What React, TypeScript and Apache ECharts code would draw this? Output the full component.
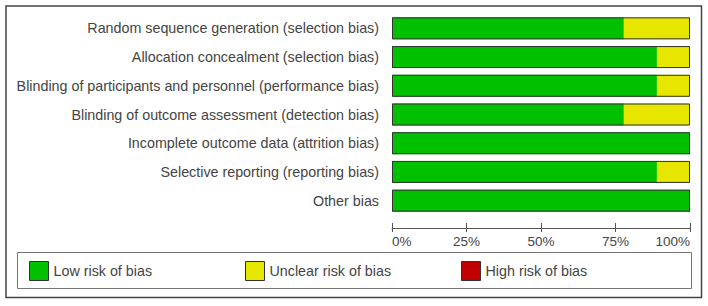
import React, { useEffect, useRef } from "react";
import * as echarts from "echarts";

const categories: string[] = [
  "Random sequence generation (selection bias)",
  "Allocation concealment (selection bias)",
  "Blinding of participants and personnel (performance bias)",
  "Blinding of outcome assessment (detection bias)",
  "Incomplete outcome data (attrition bias)",
  "Selective reporting (reporting bias)",
  "Other bias",
];
const lowRisk: number[] = [77.8, 88.9, 88.9, 77.8, 100, 88.9, 100];
const unclearRisk: number[] = [22.2, 11.1, 11.1, 22.2, 0, 11.1, 0];
const highRisk: number[] = [0, 0, 0, 0, 0, 0, 0];
const seriesNames: string[] = ["Low risk of bias", "Unclear risk of bias", "High risk of bias"];
const seriesColors: string[] = ["#00c000", "#e6e600", "#c00000"];
const tickValues: number[] = [0, 25, 50, 75, 100];

export default function App() {
  const ref = useRef<HTMLDivElement>(null);
  useEffect(() => {
    if (!ref.current) return;
    const chart = echarts.init(ref.current, undefined, { renderer: "svg" });
    const totals = lowRisk.map((v, i) => v + unclearRisk[i] + highRisk[i]);
    const values = [lowRisk, unclearRisk, highRisk];
    const font = "Liberation Sans, Arial, sans-serif";
    const legendLefts = [29, 245, 461];
    chart.setOption({
      animation: false,
      textStyle: { fontFamily: font },
      grid: { left: 392, right: 18, top: 14, height: 201, containLabel: false },
      xAxis: [
        {
          type: "value",
          min: tickValues[0],
          max: tickValues[tickValues.length - 1],
          interval: tickValues[1] - tickValues[0],
          position: "bottom",
          offset: 13,
          axisLine: { show: true, lineStyle: { color: "#555", width: 1 } },
          axisTick: { show: true, length: 4, lineStyle: { color: "#555" } },
          axisLabel: {
            formatter: "{value}%",
            color: "#444",
            fontSize: 13.5,
            fontFamily: font,
            margin: 6,
            alignMinLabel: "left",
            alignMaxLabel: "right",
          },
          splitLine: { show: false },
        },
        {
          type: "value",
          min: tickValues[0],
          max: tickValues[tickValues.length - 1],
          interval: tickValues[1] - tickValues[0],
          position: "bottom",
          offset: 13,
          axisLine: { show: false },
          axisTick: { show: true, inside: true, length: 5, lineStyle: { color: "#555" } },
          axisLabel: { show: false },
          splitLine: { show: false },
        },
      ],
      yAxis: {
        type: "category",
        data: categories,
        inverse: true,
        axisLine: { show: false },
        axisTick: { show: false },
        axisLabel: { color: "#444", fontSize: 14.3, fontFamily: font, margin: 13 },
      },
      legend: seriesNames.map((n, i) => ({
        data: [n],
        left: legendLefts[i],
        top: 261,
        itemWidth: 19,
        itemHeight: 19,
        itemGap: 0,
        padding: 0,
        icon: "rect",
        itemStyle: { borderColor: "#333", borderWidth: 1 },
        textStyle: { color: "#444", fontSize: 14.3, fontFamily: font },
        selectedMode: false,
      })),
      graphic: [
        {
          type: "rect",
          shape: { x: 6, y: 6, width: 695.5, height: 291.5 },
          style: { fill: "none", stroke: "#444", lineWidth: 1.5 },
          silent: true,
        },
        {
          type: "rect",
          shape: { x: 17.5, y: 252.5, width: 674, height: 36 },
          style: { fill: "none", stroke: "#777", lineWidth: 1 },
          silent: true,
        },
      ],
      series: [
        ...seriesNames.map((n, i) => ({
          name: n,
          type: "bar",
          stack: "risk",
          barWidth: 22,
          data: values[i],
          itemStyle: { color: seriesColors[i] },
          silent: true,
        })),
        {
          name: "frame",
          type: "bar",
          barWidth: 22,
          barGap: "-100%",
          data: totals,
          itemStyle: { color: "transparent", borderColor: "#333", borderWidth: 1 },
          silent: true,
          z: 5,
        },
      ],
    });
    return () => chart.dispose();
  }, []);
  return (
    <div
      ref={ref}
      style={{ position: "fixed", left: 0, top: 0, width: 708, height: 306, background: "#fff" }}
    />
  );
}
